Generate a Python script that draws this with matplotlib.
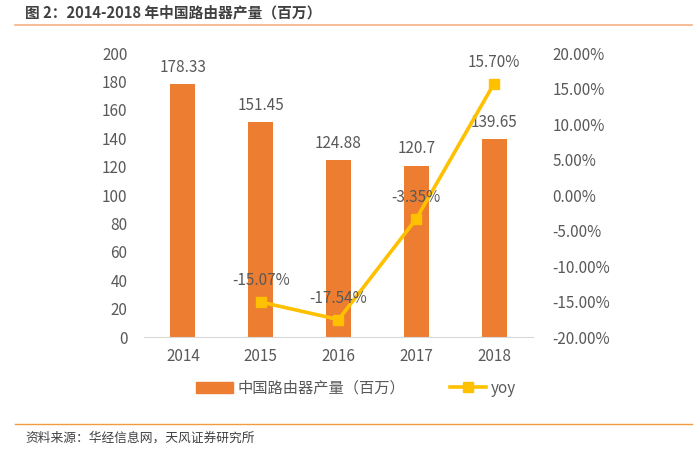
import matplotlib
matplotlib.use("Agg")
import matplotlib.pyplot as plt
from matplotlib.lines import Line2D
from matplotlib.patches import Patch
from matplotlib.ticker import FuncFormatter
import numpy as np

years = ["2014", "2015", "2016", "2017", "2018"]
output_mn = [178.33, 151.45, 124.88, 120.7, 139.65]
output_labels = ["178.33", "151.45", "124.88", "120.7", "139.65"]
yoy_years = ["2015", "2016", "2017", "2018"]
yoy_pct = [-15.07, -17.54, -3.35, 15.70]

bar_color = "#ED7D31"
line_color = "#FFC000"
text_color = "#595959"
cjk_font = ["Noto Sans CJK SC", "DejaVu Sans"]

plt.rcParams["font.family"] = cjk_font

fig = plt.figure(figsize=(7.0, 4.53), dpi=100)
ax = fig.add_axes([0.2057, 0.256, 0.5557, 0.627])
ax2 = ax.twinx()

x = np.arange(len(years))
ax.bar(x, output_mn, width=0.32, color=bar_color, zorder=2)
for xi, v, lab in zip(x, output_mn, output_labels):
    ax.annotate(lab, (xi, v), xytext=(0, 12), textcoords="offset points",
                ha="center", va="center", fontsize=11, color=text_color)

ax.set_xlim(-0.5, 4.5)
ax.set_ylim(0, 200)
ax.set_yticks(range(0, 201, 20))
ax.set_xticks(x)
ax.set_xticklabels(years)

xy = [years.index(y) for y in yoy_years]
ax2.plot(xy, yoy_pct, color=line_color, lw=2.6, marker="s", ms=7, zorder=3)
for xi, v in zip(xy, yoy_pct):
    ax2.annotate(f"{v:.2f}%", (xi, v), xytext=(0, 15.5), textcoords="offset points",
                 ha="center", va="center", fontsize=11, color=text_color)
ax2.set_ylim(-20, 20)
ax2.set_yticks(np.arange(-20, 20.1, 5))
ax2.yaxis.set_major_formatter(FuncFormatter(lambda v, p: f"{v:.2f}%"))

for a in (ax, ax2):
    for s in a.spines.values():
        s.set_visible(False)
    a.tick_params(length=0, colors=text_color, labelsize=11)
ax.spines["bottom"].set_visible(True)
ax.spines["bottom"].set_color("#D9D9D9")
ax.tick_params(axis="y", pad=12)
ax.tick_params(axis="x", pad=8)
ax2.tick_params(axis="y", pad=14)

handles = [Patch(color=bar_color),
           Line2D([], [], color=line_color, lw=2.6, marker="s", ms=7)]
leg = fig.legend(handles, ["中国路由器产量（百万）", "yoy"], loc="center",
                 bbox_to_anchor=(0.509, 0.143), ncol=2, frameon=False,
                 handlelength=2.4, columnspacing=2.9, handletextpad=0.3,
                 prop={"family": cjk_font, "size": 11})
for t in leg.get_texts():
    t.set_color(text_color)

fig.text(0.036, 0.973, "图 2：2014-2018 年中国路由器产量（百万）", family=cjk_font,
         fontsize=10.6, fontweight="bold", color="#404040", ha="left", va="center")
fig.add_artist(Line2D([0.021, 0.989], [0.945, 0.945], color="#F4B183", lw=1.2))
fig.add_artist(Line2D([0.021, 0.989], [0.064, 0.064], color="#F39A3F", lw=1.0))
fig.text(0.036, 0.033, "资料来源：华经信息网，天风证券研究所", family=cjk_font,
         fontsize=9.2, color="#404040", ha="left", va="center")

fig.savefig("out.png", dpi=100)
